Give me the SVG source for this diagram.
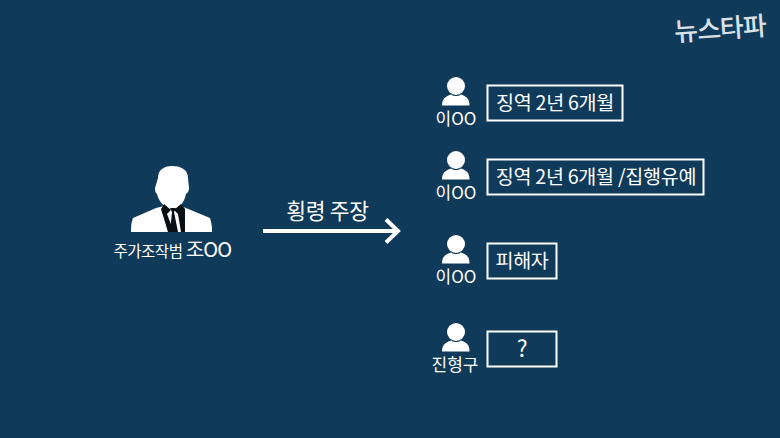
<svg xmlns="http://www.w3.org/2000/svg" width="780" height="438" viewBox="0 0 780 438">
<style>
text{font-family:"Noto Sans CJK KR","Noto Sans",sans-serif;fill:#fff}
.box{fill:none;stroke:#fff;stroke-width:2}
.lbl{font-size:19.600px;text-anchor:middle;letter-spacing:-.3px}
.nm{font-size:17px;text-anchor:middle}
.ic{fill:#fff}
</style>
<defs>
<g id="person">
<circle cx="456" cy="86" r="9"/>
<path d="M442 105.500C442 99 445 96.500 451 94.500C454 96.500 458 96.500 461 94.500C467 96.500 469.500 99 469.500 105.500Z"/>
</g>
</defs>
<rect width="780" height="438" fill="#0f3a5a"/>
<g id="logo"><text x="720" y="38" font-size="26" font-weight="500" text-anchor="middle" transform="rotate(-4 720 30)" style="fill:#d9e1e7;letter-spacing:-1px">뉴스타파</text></g>
<g id="main">
<path class="ic" d="M158 178C158 169 165 166 172 166C180 166 188 169 188 178L189 188C189 192 187 193 186 194C185 199 183 203 180 206L186 208L210 218C212 224 212 228 212 232H131C131 227 131 223 133 218L156 208L164 206C161 203 158 199 157 194C156 193 155 192 155 188Z"/>
<path fill="#0a0f14" d="M164 204L171 210L167 214L174 232H168L161 209Z"/>
<path fill="#0a0f14" d="M181 204L174 210L178 214L181 232H185L185 209Z"/>
<path fill="#0a0f14" d="M170 208H176L174 212L178 232H170L172 212Z"/>
<text x="148" y="257" font-size="15.500" text-anchor="middle" letter-spacing="-.5">주가조작범</text>
<text x="208.500" y="256.500" font-size="20" text-anchor="middle" letter-spacing="-.8">조OO</text>
</g>
<g id="connectors">
<path d="M263 231H397" stroke="#fff" stroke-width="4" fill="none"/>
<path d="M386 219.500L398 231L386 242.500" stroke="#fff" stroke-width="4" fill="none"/>
</g>
<text x="327.500" y="219" font-size="21.500" text-anchor="middle" letter-spacing="-.3">횡령 주장</text>
<g id="n1">
<use href="#person" class="ic"/>
<text class="nm" x="456" y="125">이OO</text>
<rect class="box" x="487.500" y="85.500" width="135" height="35"/>
<text class="lbl" x="555" y="110">징역 2년 6개월</text>
</g>
<g id="n2">
<use href="#person" class="ic" y="74"/>
<text class="nm" x="456" y="199">이OO</text>
<rect class="box" x="487.500" y="159.500" width="216" height="35"/>
<text class="lbl" x="596" y="184">징역 2년 6개월 /집행유예</text>
</g>
<g id="n3">
<use href="#person" class="ic" y="158"/>
<text class="nm" x="456" y="283">이OO</text>
<rect class="box" x="487.500" y="243.500" width="69" height="35"/>
<text class="lbl" x="522" y="268">피해자</text>
</g>
<g id="n4">
<use href="#person" class="ic" y="246"/>
<text class="nm" x="455" y="371">진형구</text>
<rect class="box" x="487.500" y="331.500" width="69" height="35"/>
<text class="lbl" x="522" y="357" style="font-size:23px">?</text>
</g>
</svg>
